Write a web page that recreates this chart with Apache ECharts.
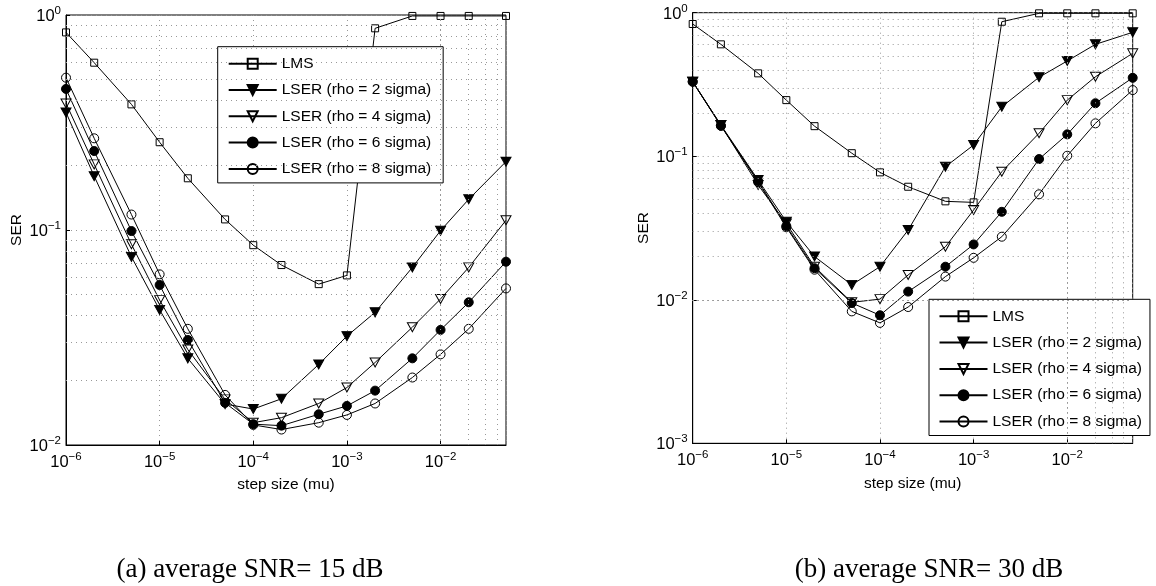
<!DOCTYPE html>
<html><head><meta charset="utf-8">
<script src="https://cdn.jsdelivr.net/npm/echarts@6/dist/echarts.min.js"></script>
<style>html,body{margin:0;padding:0;background:#fff}#c{width:1156px;height:586px}</style>
</head><body><div id="c"></div>
<script>
// ---- data ----
const stepSizes = [1e-6, 2e-6, 5e-6, 1e-5, 2e-5, 5e-5, 1e-4, 2e-4, 5e-4, 1e-3, 2e-3, 5e-3, 1e-2, 2e-2, 5e-2];
const seriesNames = ['LMS', 'LSER (rho = 2 sigma)', 'LSER (rho = 4 sigma)', 'LSER (rho = 6 sigma)', 'LSER (rho = 8 sigma)'];

// (a) average SNR = 15 dB
const lms15  = [0.83, 0.60, 0.384, 0.256, 0.174, 0.112, 0.085, 0.0687, 0.056, 0.0615, 0.867, 0.99, 0.99, 0.99, 0.99];
const rho2_15 = [0.352, 0.178, 0.075, 0.0425, 0.0253, 0.0155, 0.0147, 0.0164, 0.0237, 0.0321, 0.0414, 0.067, 0.0993, 0.139, 0.208];
const rho4_15 = [0.388, 0.202, 0.0858, 0.0472, 0.0278, 0.0163, 0.0127, 0.0134, 0.0156, 0.0185, 0.0242, 0.0353, 0.0478, 0.067, 0.111];
const rho6_15 = [0.453, 0.233, 0.0989, 0.0555, 0.0308, 0.0157, 0.0125, 0.0123, 0.0139, 0.0152, 0.0179, 0.0253, 0.0343, 0.0461, 0.0712];
const rho8_15 = [0.511, 0.267, 0.118, 0.0622, 0.0347, 0.0171, 0.0124, 0.0118, 0.0127, 0.0138, 0.0156, 0.0206, 0.0264, 0.0347, 0.0535];

// (b) average SNR = 30 dB
const lms30  = [0.834, 0.602, 0.378, 0.246, 0.162, 0.105, 0.0772, 0.0613, 0.0485, 0.0477, 0.865, 0.99, 0.99, 0.99, 0.99];
const rho2_30 = [0.331, 0.165, 0.0683, 0.035, 0.020, 0.0127, 0.017, 0.0306, 0.0845, 0.1197, 0.221, 0.355, 0.461, 0.602, 0.730];
const rho4_30 = [0.33, 0.165, 0.063, 0.034, 0.017, 0.0096, 0.0101, 0.0149, 0.0234, 0.0422, 0.078, 0.1445, 0.246, 0.358, 0.521];
const rho6_30 = [0.331, 0.163, 0.0672, 0.0326, 0.0166, 0.0095, 0.0078, 0.0114, 0.017, 0.0243, 0.041, 0.0956, 0.142, 0.234, 0.352];
const rho8_30 = [0.33, 0.163, 0.066, 0.032, 0.0162, 0.0083, 0.0069, 0.0089, 0.0145, 0.0196, 0.0275, 0.0543, 0.1008, 0.1695, 0.289];

const xRange = [1e-6, 5e-2];
const yRangeA = [1e-2, 1];
const yRangeB = [1e-3, 1];
const xTitle = 'step size (mu)';
const yTitle = 'SER';
const captions = ['(a) average SNR= 15 dB', '(b) average SNR= 30 dB'];
// ---- end data ----

const panels = [
  { sets: [lms15, rho2_15, rho4_15, rho6_15, rho8_15], yr: yRangeA,
    grid: { left: 66, top: 15, width: 440, height: 430 },
    legend: { left: 217.7, top: 46.7, padding: [9, 12, 6, 10] }, cap: { x: 250, y: 570 } },
  { sets: [lms30, rho2_30, rho4_30, rho6_30, rho8_30], yr: yRangeB,
    grid: { left: 692.7, top: 12.7, width: 440, height: 430.6 },
    legend: { left: 929, top: 299.3, padding: [9, 8, 6, 9.5] }, cap: { x: 929, y: 570 } }
];

const downTri = 'path://M0,0L10,0L5,9Z';
const marks = [
  { symbol: 'rect', size: 7, fill: 'rgba(0,0,0,0)' },
  { symbol: downTri, size: [10, 9], fill: '#000' },
  { symbol: downTri, size: [10, 9], fill: 'rgba(0,0,0,0)' },
  { symbol: 'circle', size: 9, fill: '#000' },
  { symbol: 'circle', size: 9, fill: 'rgba(0,0,0,0)' }
];

const FONT = 'Liberation Sans, Arial, Helvetica, sans-serif';
const gridLine = { type: [1, 4], color: '#999', width: 1 };

function isDecade(v) { const l = Math.log10(v); return Math.abs(l - Math.round(l)) < 1e-6; }
function powLabel(v) {
  if (!isDecade(v)) return '';
  const e = Math.round(Math.log10(v));
  return '{b|10}{s|' + (e < 0 ? '\u2212' + (-e) : e) + '}';
}
const rich = {
  b: { fontSize: 16.5, fontFamily: FONT, color: '#000', lineHeight: 20, verticalAlign: 'bottom' },
  s: { fontSize: 11.5, fontFamily: FONT, color: '#000', lineHeight: 12, verticalAlign: 'top' }
};
function minors(lo, hi) {
  const out = [];
  for (let e = Math.floor(Math.log10(lo)); e <= Math.ceil(Math.log10(hi)); e++) {
    for (let m = 2; m <= 9; m++) {
      const v = m * Math.pow(10, e);
      if (v > lo * 1.0001 && v < hi * 0.9999) out.push(v);
    }
  }
  return out;
}

const option = { animation: false, backgroundColor: '#fff', grid: [], xAxis: [], yAxis: [], series: [], legend: [], graphic: [] };

panels.forEach((p, gi) => {
  option.grid.push(Object.assign({ show: true, borderColor: '#000', borderWidth: 1, containLabel: false }, p.grid));
  option.xAxis.push({
    type: 'log', logBase: 10, gridIndex: gi, min: xRange[0], max: xRange[1],
    name: xTitle, nameLocation: 'middle', nameGap: 32,
    nameTextStyle: { fontFamily: FONT, fontSize: 15.5, color: '#000' },
    axisLine: { show: true, lineStyle: { color: '#000', width: 1 } },
    axisTick: { show: true, inside: true, length: 4, lineStyle: { color: '#000' } },
    axisLabel: { margin: 6, fontSize: 16.5, fontFamily: FONT, color: '#000', formatter: powLabel, rich: rich, showMaxLabel: false },
    splitLine: { show: true, lineStyle: gridLine }
  });
  option.yAxis.push({
    type: 'log', logBase: 10, gridIndex: gi, min: p.yr[0], max: p.yr[1],
    name: yTitle, nameLocation: 'middle', nameGap: 41,
    nameTextStyle: { fontFamily: FONT, fontSize: 15.5, color: '#000' },
    axisLine: { show: true, lineStyle: { color: '#000', width: 1 } },
    axisTick: { show: true, inside: true, length: 4, lineStyle: { color: '#000' } },
    axisLabel: { margin: 5, fontSize: 16.5, fontFamily: FONT, color: '#000', formatter: powLabel, rich: rich },
    splitLine: { show: true, lineStyle: gridLine }
  });
  // minor grid lines (2..9 x 10^k)
  option.series.push({
    type: 'line', xAxisIndex: gi, yAxisIndex: gi, data: [], z: 1, silent: true,
    markLine: {
      silent: true, symbol: ['none', 'none'], label: { show: false }, animation: false,
      lineStyle: gridLine, emphasis: { disabled: true },
      data: minors(xRange[0], xRange[1]).map(v => ({ xAxis: v }))
        .concat(minors(p.yr[0], p.yr[1]).map(v => ({ yAxis: v })))
    }
  });
  p.sets.forEach((vals, k) => {
    const m = marks[k];
    option.series.push({
      type: 'line', name: seriesNames[k], xAxisIndex: gi, yAxisIndex: gi, z: 3,
      data: stepSizes.map((x, i) => [x, vals[i]]),
      symbol: m.symbol, symbolSize: m.size, showAllSymbol: true,
      itemStyle: { color: m.fill, borderColor: '#000', borderWidth: 1 },
      lineStyle: { color: '#000', width: 1 },
      emphasis: { disabled: true }
    });
  });
  option.legend.push(Object.assign({
    orient: 'vertical', data: seriesNames, selectedMode: false,
    backgroundColor: '#fff', borderColor: '#000', borderWidth: 1,
    itemWidth: 48, itemHeight: 12.5, itemGap: 10.3,
    textStyle: { fontFamily: FONT, fontSize: 15.5, color: '#000' }
  }, p.legend));
  option.graphic.push({
    type: 'text', x: p.cap.x, y: p.cap.y,
    style: { text: captions[gi], font: '27px "Liberation Serif", "Times New Roman", serif', fill: '#000', textAlign: 'center', textVerticalAlign: 'middle' }
  });
});

const chart = echarts.init(document.getElementById('c'), null, { renderer: 'canvas' });
chart.setOption(option);
</script></body></html>
